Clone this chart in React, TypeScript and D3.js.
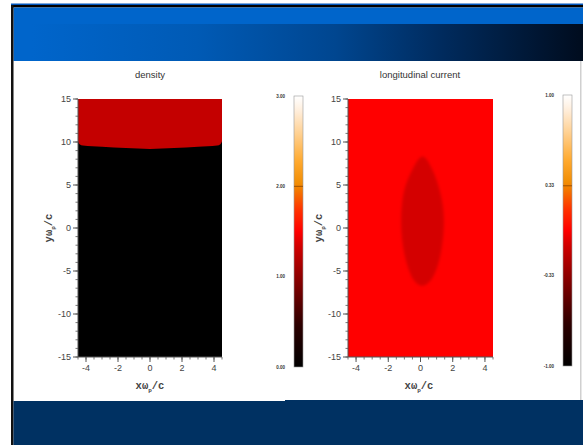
import React from "react";
import * as d3 from "d3";

// ---- data ----
const xDomain = [-4.5, 4.5];
const yDomain = [-15, 15];
const xMajorTicks = [-4, -2, 0, 2, 4];
const yMajorTicks = [-15, -10, -5, 0, 5, 10, 15];
const xMinorStep = 0.5;
const yMinorStep = 1;

// density: boundary between plasma-free (0) and dense region
const densityBoundaryX = [-4.5, -4.4, -4.2, -3, -1.5, 0, 1.5, 3, 4.2, 4.4, 4.5];
const densityBoundaryY = [10.1, 9.75, 9.6, 9.45, 9.3, 9.2, 9.3, 9.45, 9.6, 9.75, 10.1];
const densityUpper = 1.27;
const densityLower = 0.0;
const densityTicks = [0, 1, 2, 3];
const densityTickLabels = ["0.00", "1.00", "2.00", "3.00"];

// longitudinal current: background and elliptical dip
const currentBackground = 0.0;
const currentEllipse = -0.1;
const ellipseX = [0.15, 0.8, 1.3, 1.45, 1.25, 0.8, 0.15, -0.5, -1.0, -1.2, -1.05, -0.5];
const ellipseY = [8.3, 6.5, 3.5, 0.5, -3.0, -5.6, -6.7, -5.8, -3.0, 0.5, 4.0, 6.8];
const currentTicks = [-1, -0.33, 0.33, 1];
const currentTickLabels = ["-1.00", "-0.33", "0.33", "1.00"];

const titles = ["density", "longitudinal current"];

// colormap stops
const cmapT = [0, 0.15, 0.33, 0.45, 0.5, 0.58, 0.67, 0.76, 0.86, 0.95, 1];
const cmapC = ["#000000", "#2a0000", "#8c0000", "#d40000", "#ff0000", "#ff3300", "#f08a00", "#ffaa30", "#ffd090", "#fff0e0", "#ffffff"];

const cmap = d3.scaleLinear<string>().domain(cmapT).range(cmapC).interpolate(d3.interpolateRgb).clamp(true);

function Axes({ x, y, id }: { x: d3.ScaleLinear<number, number>; y: d3.ScaleLinear<number, number>; id: string }) {
  const x0 = x.range()[0];
  const y0 = y.range()[0];
  const xMinor = d3.range(xDomain[0], xDomain[1] + 1e-9, xMinorStep);
  const yMinor = d3.range(yDomain[0], yDomain[1] + 1e-9, yMinorStep);
  const tickColor = "#555";
  return (
    <g>
      <line x1={x0} x2={x0} y1={y.range()[1]} y2={y0} stroke={tickColor} strokeWidth={1} />
      <line x1={x0} x2={x.range()[1]} y1={y0} y2={y0} stroke={tickColor} strokeWidth={1} />
      {yMinor.map((v) => (
        <line key={id + "ym" + v} x1={x0 - 2.5} x2={x0} y1={y(v)} y2={y(v)} stroke={tickColor} strokeWidth={0.8} />
      ))}
      {yMajorTicks.map((v) => (
        <g key={id + "yM" + v}>
          <line x1={x0 - 5} x2={x0} y1={y(v)} y2={y(v)} stroke={tickColor} strokeWidth={1} />
          <text x={x0 - 7} y={y(v)} dy="0.35em" textAnchor="end" fontSize={9} fill="#444" fontFamily="Liberation Sans, Arial, sans-serif">
            {v}
          </text>
        </g>
      ))}
      {xMinor.map((v) => (
        <line key={id + "xm" + v} x1={x(v)} x2={x(v)} y1={y0} y2={y0 + 2.5} stroke={tickColor} strokeWidth={0.8} />
      ))}
      {xMajorTicks.map((v) => (
        <g key={id + "xM" + v}>
          <line x1={x(v)} x2={x(v)} y1={y0} y2={y0 + 5} stroke={tickColor} strokeWidth={1} />
          <text x={x(v)} y={y0 + 14} textAnchor="middle" fontSize={9} fill="#444" fontFamily="Liberation Sans, Arial, sans-serif">
            {v}
          </text>
        </g>
      ))}
    </g>
  );
}

function AxisLabel({ x, y, rotate, text }: { x: number; y: number; rotate?: boolean; text: string }) {
  return (
    <text
      x={x}
      y={y}
      transform={rotate ? `rotate(-90 ${x} ${y})` : undefined}
      textAnchor="middle"
      fontSize={10.5}
      fontWeight="bold"
      fill="#444"
      fontFamily="Liberation Mono, Courier New, monospace"
    >
      {text}
      <tspan fontSize={6} dy={3}>p</tspan>
      <tspan dy={-3}>/c</tspan>
    </text>
  );
}

function ColorBar({ x0, y0, y1, domain, ticks, labels, mark, id }: any) {
  const s = d3.scaleLinear().domain(domain).range([y1, y0]);
  const w = 9;
  const gid = "cb" + id;
  const stops = d3.range(0, 1.0001, 0.02);
  return (
    <g>
      <defs>
        <linearGradient id={gid} x1="0" y1="1" x2="0" y2="0">
          {stops.map((t) => (
            <stop key={t} offset={t} stopColor={cmap(t)} />
          ))}
        </linearGradient>
      </defs>
      <rect x={x0} y={y0} width={w} height={y1 - y0} fill={`url(#${gid})`} stroke="#999" strokeWidth={0.6} />
      <line x1={x0} x2={x0 + w} y1={s(mark)} y2={s(mark)} stroke="#7a3a00" strokeWidth={0.7} />
      {ticks.map((v: number, i: number) => (
        <text key={v} x={x0 - 9} y={s(v)} dy="0.35em" textAnchor="end" fontSize={4.5} fontWeight="bold" fill="#333" fontFamily="Liberation Sans, Arial, sans-serif">
          {labels[i]}
        </text>
      ))}
    </g>
  );
}

export default function App() {
  const yL = d3.scaleLinear().domain(yDomain).range([357, 99]);
  const xL = d3.scaleLinear().domain(xDomain).range([78, 222]);
  const xR = d3.scaleLinear().domain(xDomain).range([348, 493]);
  const dScale = d3.scaleLinear().domain([0, 3]).range([0, 1]);
  const cScale = d3.scaleLinear().domain([-1, 1]).range([0, 1]);

  const boundary = densityBoundaryX.map((v, i) => [v, densityBoundaryY[i]] as [number, number]);
  const upperArea = d3
    .area<[number, number]>()
    .x((d) => xL(d[0]))
    .y0(() => yL(yDomain[1]))
    .y1((d) => yL(d[1]))
    .curve(d3.curveMonotoneX)(boundary);

  const ell = ellipseX.map((v, i) => [v, ellipseY[i]] as [number, number]);
  const ellPath = d3
    .line<[number, number]>()
    .x((d) => xR(d[0]))
    .y((d) => yL(d[1]))
    .curve(d3.curveCardinalClosed)(ell);

  return (
    <svg width={583} height={445} style={{ position: "absolute", left: 0, top: 0, background: "#fff" }}>
      <defs>
        <linearGradient id="hdr" x1="0" x2="1" y1="0" y2="0">
          <stop offset="0" stopColor="#0065cb" />
          <stop offset="0.3" stopColor="#005ab5" />
          <stop offset="0.55" stopColor="#004690" />
          <stop offset="0.75" stopColor="#002a5c" />
          <stop offset="1" stopColor="#000c1e" />
        </linearGradient>
        <clipPath id="clipL">
          <rect x={78} y={99} width={144} height={258} />
        </clipPath>
        <clipPath id="clipR">
          <rect x={348} y={99} width={145} height={258} />
        </clipPath>
        <filter id="soft" x="-50%" y="-50%" width="200%" height="200%">
          <feGaussianBlur stdDeviation="1.5" />
        </filter>
        <filter id="soft2" x="-50%" y="-50%" width="200%" height="200%">
          <feGaussianBlur stdDeviation="0.6" />
        </filter>
      </defs>

      {/* slide frame */}
      <rect x={11} y={3.5} width={572} height={1.5} fill="#0055bb" />
      <rect x={11} y={5} width={572} height={2.5} fill="#000" />
      <rect x={13.5} y={7.5} width={570} height={53.5} fill="#0065cb" />
      <rect x={32} y={24} width={551} height={37} fill="url(#hdr)" />
      <rect x={11} y={5} width={2.5} height={440} fill="#111" />
      <rect x={580} y={61} width={1.5} height={340} fill="#d0d0d0" />
      <rect x={13.5} y={401} width={272} height={44} fill="#003162" />
      <rect x={285} y={400} width={298} height={45} fill="#003162" />

      {/* titles */}
      <text x={150} y={78} textAnchor="middle" fontSize={9.5} fill="#333" fontFamily="Liberation Sans, Arial, sans-serif">
        {titles[0]}
      </text>
      <text x={420} y={78} textAnchor="middle" fontSize={9.5} fill="#333" fontFamily="Liberation Sans, Arial, sans-serif">
        {titles[1]}
      </text>

      {/* density map */}
      <g clipPath="url(#clipL)">
        <rect x={78} y={99} width={144} height={258} fill={cmap(dScale(densityLower))} />
        <path d={upperArea || ""} fill={cmap(dScale(densityUpper))} filter="url(#soft2)" />
      </g>
      <Axes x={xL} y={yL} id="L" />
      <AxisLabel x={52} y={228} rotate text="yω" />
      <AxisLabel x={150} y={389} text="xω" />

      {/* current map */}
      <g clipPath="url(#clipR)">
        <rect x={348} y={99} width={145} height={258} fill={cmap(cScale(currentBackground))} />
        <path d={ellPath || ""} fill={cmap(cScale(currentEllipse))} filter="url(#soft)" />
      </g>
      <Axes x={xR} y={yL} id="R" />
      <AxisLabel x={322} y={228} rotate text="yω" />
      <AxisLabel x={419} y={389} text="xω" />

      <ColorBar x0={294} y0={96} y1={367} domain={[0, 3]} ticks={densityTicks} labels={densityTickLabels} mark={2} id="d" />
      <ColorBar x0={563} y0={95} y1={366} domain={[-1, 1]} ticks={currentTicks} labels={currentTickLabels} mark={0.33} id="c" />
    </svg>
  );
}
